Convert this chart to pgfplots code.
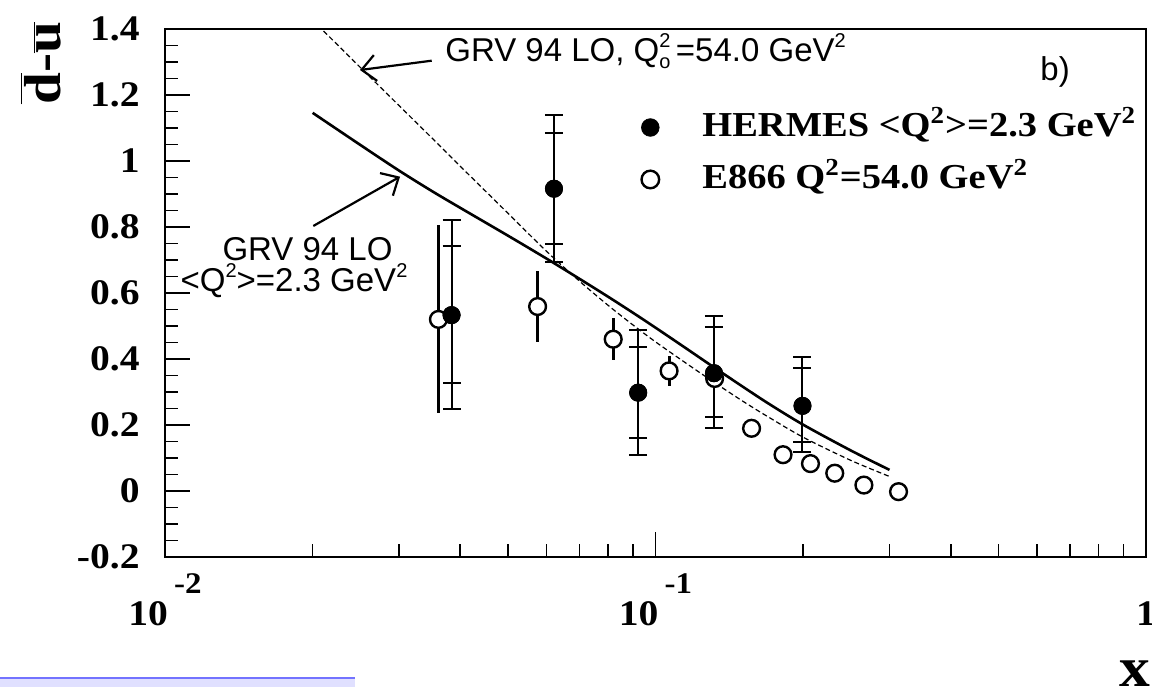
\documentclass[border=0pt]{standalone}
\usepackage{pgfplots}
\usepackage{pgfplotstable}
\pgfplotsset{compat=1.18}
\usepackage{fontspec}
\setmainfont[FakeStretch=1.1]{Liberation Serif}
\newfontfamily\annotfont{Liberation Sans}
\usetikzlibrary{arrows.meta}

% small raised "2" for the sans annotations
\newcommand{\sqr}{\raisebox{0.42em}{\fontsize{10}{10}\selectfont 2}}

% HERMES: x, value, stat. errors (+/-), total errors (+/-)
\pgfplotstableread{
x       y      sp     sm     tp     tm
0.0384  0.533  0.210  0.207  0.288  0.285
0.0621  0.916  0.168  0.168  0.223  0.221
0.0922  0.298  0.139  0.138  0.190  0.189
0.1316  0.357  0.139  0.132  0.174  0.167
0.1994  0.258  0.114  0.109  0.149  0.139
}\hermes

% E866 at Q^2 = 54 GeV^2
\pgfplotstableread{
x       y       e
0.0361  0.520   0.285
0.0575  0.559   0.108
0.0820  0.460   0.063
0.1066  0.364   0.045
0.1320  0.341   0.030
0.1570  0.190   0.020
0.1820  0.110   0.015
0.2070  0.083   0.015
0.2320  0.054   0.012
0.2660  0.018   0.010
0.3130  -0.002  0.012
}\eeight

% GRV 94 LO at <Q^2> = 2.3 GeV^2
\pgfplotstableread{
x      y
0.020  1.146
0.025  1.049
0.030  0.971
0.035  0.909
0.040  0.858
0.050  0.774
0.060  0.704
0.070  0.643
0.080  0.589
0.090  0.540
0.100  0.495
0.115  0.434
0.130  0.380
0.150  0.318
0.170  0.265
0.200  0.201
0.250  0.123
0.300  0.064
}\grvlow

% GRV 94 LO at Q0^2 = 54 GeV^2
\pgfplotstableread{
x       y
0.0205  1.411
0.025   1.284
0.030   1.168
0.035   1.070
0.040   0.984
0.050   0.842
0.060   0.726
0.070   0.636
0.080   0.563
0.090   0.503
0.100   0.452
0.115   0.389
0.130   0.335
0.150   0.274
0.170   0.224
0.200   0.163
0.250   0.093
0.300   0.044
}\grvhigh

\begin{document}
\begin{tikzpicture}
\begin{axis}[
  at={(0pt,0pt)}, anchor=south west,
  scale only axis, width=490.5pt, height=264pt,
  xmode=log, xmin=0.01, xmax=1,
  ymin=-0.2, ymax=1.4,
  axis line style={line width=1pt},
  tick style={line width=0.8pt, black},
  major tick length=12.5pt, minor tick length=6.5pt,
  tick align=inside,
  xtick pos=bottom, ytick pos=left,
  xtick={0.01,0.1,1},
  minor xtick={0.02,0.03,0.04,0.05,0.06,0.07,0.08,0.09,0.2,0.3,0.4,0.5,0.6,0.7,0.8,0.9},
  xticklabels={10\,\raisebox{16pt}{\fontsize{15}{15}\selectfont -2},
               10\,\raisebox{16pt}{\fontsize{15}{15}\selectfont -1},
               1},
  xticklabel style={anchor=base, yshift=-34pt, inner sep=0pt,
    font=\bfseries\fontsize{18}{20}\selectfont},
  ytick={-0.2,0,0.2,0.4,0.6,0.8,1,1.2,1.4},
  yticklabels={-0.2,0,0.2,0.4,0.6,0.8,1,1.2,1.4},
  minor y tick num=3,
  yticklabel style={anchor=east, inner sep=0pt, xshift=-12.5pt,
    font=\bfseries\fontsize{18}{20}\selectfont},
  legend style={draw=none, fill=none, at={(rel axis cs:0.476,0.854)},
    anchor=north west, inner sep=0pt, row sep=5pt,
    font=\bfseries\fontsize{17.5}{20}\selectfont,
    nodes={text height=13pt, text depth=4pt, inner sep=2pt},
    /tikz/every odd column/.style={column sep=15pt}},
  legend cell align=left,
  legend image code/.code={\path[draw=none, fill=none] (-9pt,-4pt) (9pt,4pt);
    \draw[#1] plot coordinates {(0pt,0pt)};},
]
\addlegendimage{only marks, mark=*, mark size=4.4pt, black}
\addlegendentry{HERMES <Q\textsuperscript{2}>=2.3 GeV\textsuperscript{2}}
\addlegendimage{only marks, mark=*, mark size=4.4pt,
  mark options={fill=white, draw=black, line width=1.2pt}}
\addlegendentry{E866 Q\textsuperscript{2}=54.0 GeV\textsuperscript{2}}

% model curves
\addplot[black, line width=1.3pt, smooth, no marks] table[x=x, y=y] {\grvlow};
\addplot[black, line width=0.6pt, dash pattern=on 2.5pt off 1.5pt, smooth, no marks]
  table[x=x, y=y] {\grvhigh};

% E866 points
\addplot[only marks, mark=*, mark size=4.2pt,
  mark options={fill=white, draw=black, line width=1.2pt},
  error bars/.cd, y dir=both, y explicit,
  error bar style={line width=1.5pt, black}, error mark=none]
  table[x=x, y=y, y error=e] {\eeight};

% HERMES: total and statistical uncertainties
\addplot[only marks, mark=*, mark size=4.3pt, black,
  error bars/.cd, y dir=both, y explicit,
  error bar style={line width=1pt, black},
  error mark options={rotate=90, mark size=4.5pt, line width=1pt, black}]
  table[x=x, y=y, y error plus=tp, y error minus=tm] {\hermes};
\addplot[only marks, mark=*, mark size=4.3pt, black,
  error bars/.cd, y dir=both, y explicit,
  error bar style={line width=1pt, black},
  error mark options={rotate=90, mark size=4.5pt, line width=1pt, black}]
  table[x=x, y=y, y error plus=sp, y error minus=sm] {\hermes};

% annotations
\draw[line width=1.1pt, -{Straight Barb[length=7pt, width=13pt, line width=1.1pt]}]
  (rel axis cs:0.2719,0.940) -- (rel axis cs:0.1988,0.9223);
\node[anchor=base west, inner sep=0pt, font=\annotfont\fontsize{16.5}{18}\selectfont]
  at (rel axis cs:0.2854,0.938)
  {GRV 94 LO, Q\makebox[0pt][l]{\sqr}\raisebox{-0.2em}{\fontsize{10}{10}\selectfont o}\,=54.0 GeV\sqr};
\node[anchor=base west, inner sep=0pt, font=\annotfont\fontsize{16.5}{18}\selectfont]
  at (rel axis cs:0.892,0.9034) {b)};
\draw[line width=1.1pt, -{Straight Barb[length=7pt, width=13pt, line width=1.1pt]}]
  (rel axis cs:0.1512,0.6269) -- (rel axis cs:0.2396,0.7203);
\node[anchor=base, inner sep=0pt, font=\annotfont\fontsize{16.5}{18}\selectfont]
  at (rel axis cs:0.1453,0.5625) {GRV 94 LO};
\node[anchor=base, inner sep=0pt, font=\annotfont\fontsize{16.5}{18}\selectfont]
  at (rel axis cs:0.1315,0.5025) {<Q\sqr>=2.3 GeV\sqr};
\end{axis}

% axis titles
\node[rotate=90, inner sep=0pt, font=\bfseries\fontsize{26}{28}\selectfont]
  at (-62pt,247pt) {$\overline{\mbox{d}}$-$\overline{\mbox{u}}$};
\node[anchor=base, inner sep=0pt, font=\bfseries\fontsize{28}{30}\selectfont]
  at (485pt,-64.5pt) {x};

\fill[blue!12!white] (-82.5pt,-65pt) rectangle (95pt,-60.5pt);
\draw[blue!55!white, line width=0.6pt] (-82.5pt,-60.5pt) -- (95pt,-60.5pt);

\pgfresetboundingbox
\path[use as bounding box] (-82.5pt,-65pt) rectangle (493.5pt,278.5pt);
\end{tikzpicture}
\end{document}
